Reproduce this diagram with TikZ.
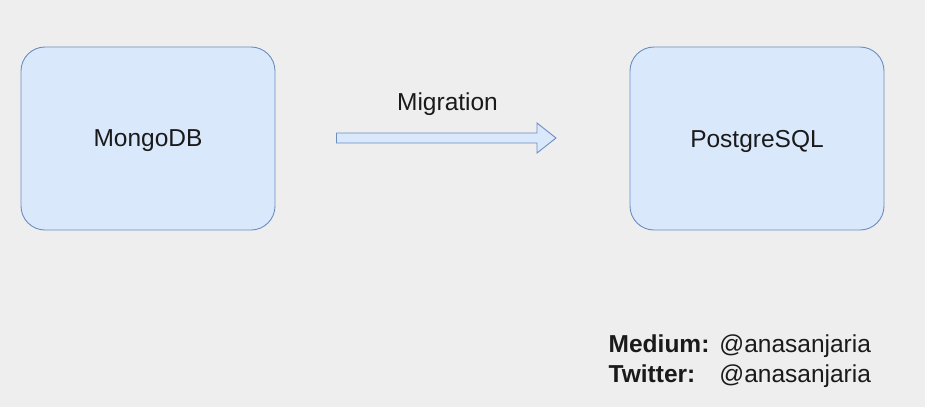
\documentclass[tikz,border=0pt]{standalone}
\usepackage{fontspec}
\setmainfont{Liberation Sans}
\usepackage{tikz}
\definecolor{bgback}{HTML}{EEEEEE}
\definecolor{boxfill}{HTML}{DAE8FC}
\definecolor{boxline}{HTML}{6C8EBF}
\definecolor{inktext}{HTML}{1A1A1A}
\begin{document}
\begin{tikzpicture}[x=1pt,y=-1pt,
  dbbox/.style={draw=boxline,fill=boxfill,line width=0.9pt,rounded corners=24pt,
    minimum width=254pt,minimum height=183pt,text=inktext,text depth=0pt,
    font=\fontsize{24.5}{30}\selectfont},
  lbl/.style={text=inktext,font=\fontsize{24.5}{30}\selectfont}]
\fill[bgback] (0,0) rectangle (925,407);
\useasboundingbox (0,0) rectangle (925,407);
\node[dbbox] (mongo) at (148,138.5) {MongoDB};
\node[dbbox] (postgres) at (757,138.5) {PostgreSQL};
\draw[draw=boxline,fill=boxfill,line width=0.9pt]
  (336.5,133) -- (537,133) -- (537,123) -- (556,138) -- (537,153)
  -- (537,143) -- (336.5,143) -- cycle;
\node[lbl,text depth=0pt] (migration) at (447.5,102) {Migration};
\node[lbl,anchor=base west,inner sep=0pt] (contact) at (608.5,352)
  {\begin{tabular}[t]{@{}l@{\hspace{10pt}}l@{}}
   \textbf{Medium:} & @anasanjaria\\
   \textbf{Twitter:} & @anasanjaria
   \end{tabular}};
\end{tikzpicture}
\end{document}
